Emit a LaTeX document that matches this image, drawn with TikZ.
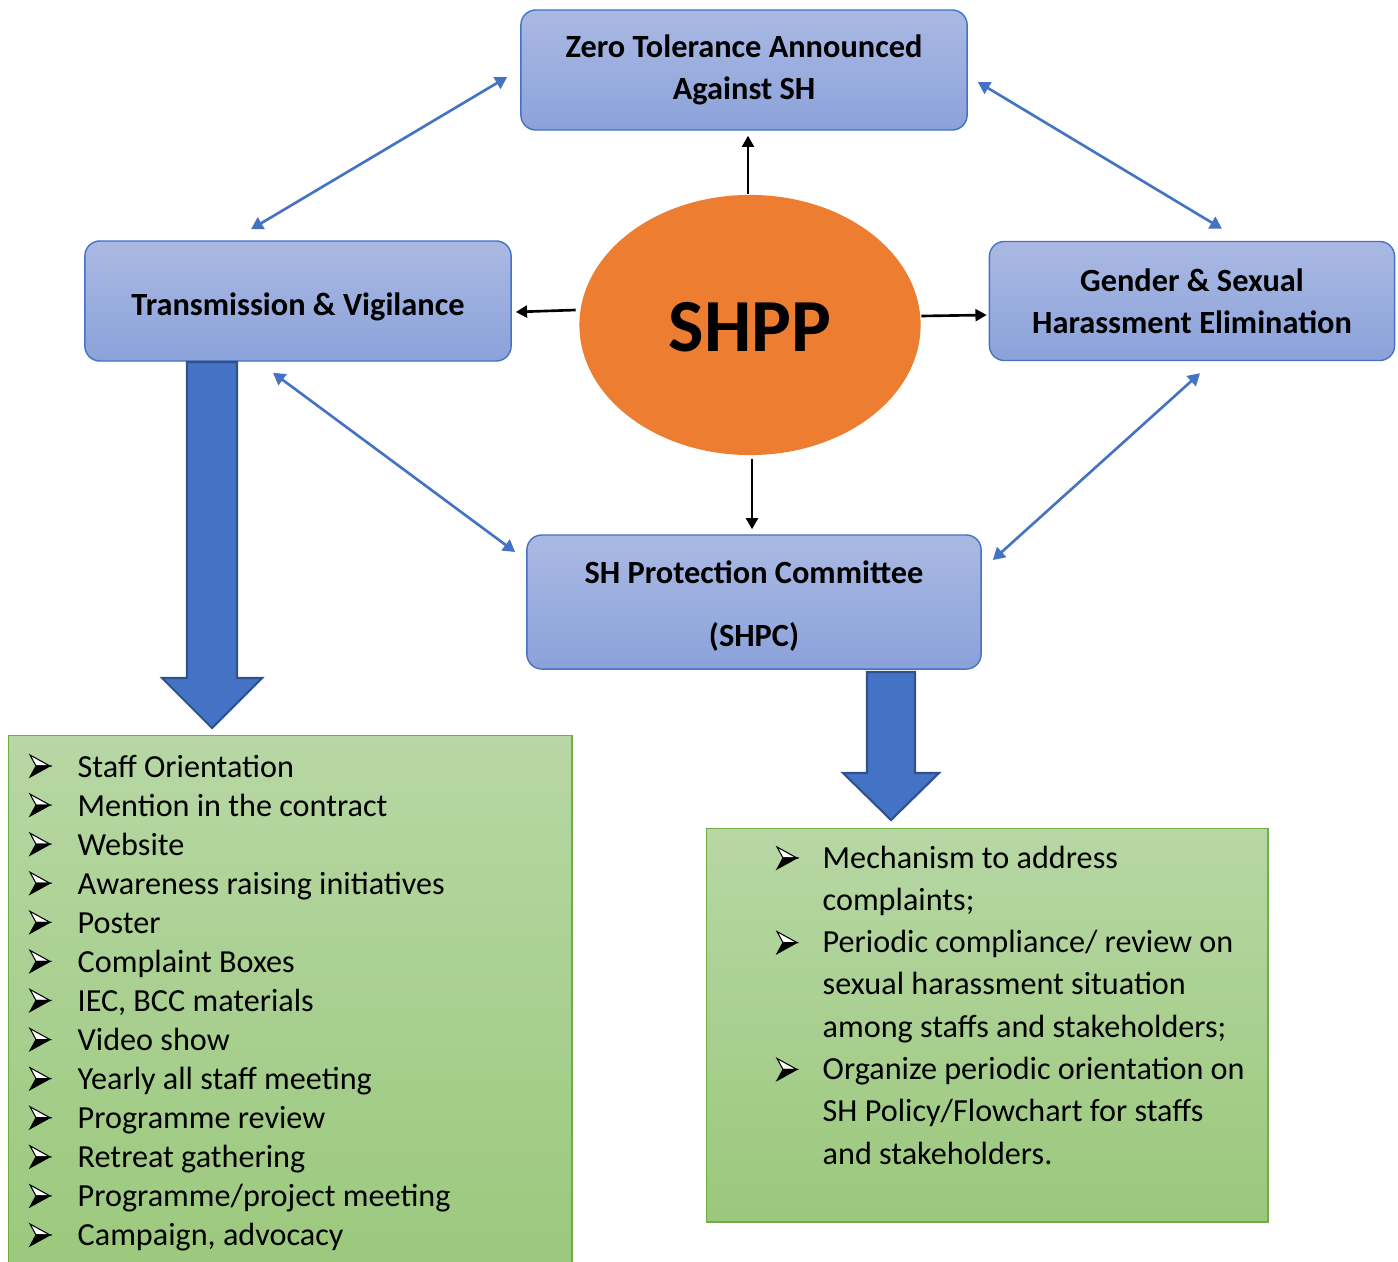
\documentclass[tikz,border=0pt]{standalone}
\usepackage{fontspec}
\setmainfont{Carlito}
\usetikzlibrary{arrows.meta, positioning, shapes.geometric}

\definecolor{boxtop}{HTML}{AAB9E3}
\definecolor{boxbot}{HTML}{8BA2DA}
\definecolor{boxline}{HTML}{4472C4}
\definecolor{greentop}{HTML}{B7D7A4}
\definecolor{greenbot}{HTML}{9BC87C}
\definecolor{greenline}{HTML}{70AD47}
\definecolor{shppfill}{HTML}{ED7D31}
\definecolor{bigfill}{HTML}{4472C4}
\definecolor{bigline}{HTML}{2F528F}

% baixa o texto sem mudar o tamanho do node
\newcommand{\lowertext}[2]{\raisebox{-#1}[\height][\depth]{#2}}

\tikzset{
  topic/.style={rectangle, rounded corners=0.15cm, draw=boxline, thin,
    top color=boxtop, bottom color=boxbot, align=center, inner sep=0pt,
    font=\bfseries\fontsize{9.2}{11.95}\selectfont},
  listbox/.style={rectangle, draw=greenline, thin, top color=greentop,
    bottom color=greenbot, inner sep=0pt, anchor=north west},
  listtext/.style={anchor=base west, inner sep=0pt,
    font=\fontsize{9.15}{11}\selectfont},
  link/.style={{Triangle[length=3.4pt,width=3.8pt]}-{Triangle[length=3.4pt,width=3.8pt]},
    draw=boxline, line width=0.75pt},
  feed/.style={-{Triangle[length=3.2pt,width=3.4pt]}, line width=0.75pt},
  bigarrow/.style={fill=bigfill, draw=bigline, line width=0.6pt, line join=miter},
  pics/bul/.style={code={
    \filldraw[fill=white, draw=black, line width=0.3pt]
      (-10,-11) -- (10,0) -- (-4,0) -- cycle;
    \filldraw[fill=black, draw=black, line width=0.3pt]
      (-4,0) -- (10,0) -- (-10,11) -- cycle;
  }}
}

\begin{document}
\begin{tikzpicture}[x=0.01cm, y=-0.01cm]

  \useasboundingbox (0,0) rectangle (1398,1261);

  % --- caixas principais ---
  \node[topic, minimum width=4.46cm, minimum height=1.20cm] (zta) at (744,70)
    {Zero Tolerance Announced\\Against SH};
  \node[topic, minimum width=4.26cm, minimum height=1.20cm] (trans) at (298,301)
    {\lowertext{0.06cm}{Transmission \& Vigilance}};
  \node[topic, minimum width=4.05cm, minimum height=1.19cm] (gse) at (1192,301)
    {Gender \& Sexual\\Harassment Elimination};
  \node[topic, minimum width=4.54cm, minimum height=1.34cm,
        font=\bfseries\fontsize{9.2}{17.9}\selectfont] (shpc) at (754,602)
    {\lowertext{0.04cm}{SH Protection Committee}\\\lowertext{0.04cm}{(SHPC)}};

  % elipse central
  \node[ellipse, fill=shppfill, minimum width=3.41cm, minimum height=2.60cm,
        inner sep=0pt, font=\bfseries\fontsize{21.3}{24}\selectfont] (shpp) at (750,325)
    {\lowertext{0.02cm}{SHPP}};

  % --- setas pretas saindo do SHPP ---
  \draw[feed] ([shift={(-2,0)}]shpp.north) -- ([shift={(4,5)}]zta.south);
  \draw[feed] ([shift={(-3,-15)}]shpp.west) -- ([shift={(4,11)}]trans.east);
  \draw[feed] ([shift={(0,-9)}]shpp.east) -- ([shift={(-2,14)}]gse.west);
  \draw[feed] ([shift={(2,3)}]shpp.south) -- ([shift={(-2,-5)}]shpc.north);

  % --- setas azuis duplas entre as caixas ---
  \draw[link] ([shift={(-13,7)}]zta.west) -- ([shift={(-47,-11)}]trans.north);
  \draw[link] ([shift={(10,12)}]zta.east) -- ([shift={(30,-12)}]gse.north);
  \draw[link] ([shift={(-25,11)}]trans.south) -- ([shift={(-11,-50)}]shpc.west);
  \draw[link] ([shift={(8,12)}]gse.south) -- ([shift={(11,-42)}]shpc.east);

  % --- caixas verdes ---
  \node[listbox, minimum width=5.63cm, minimum height=5.45cm] (acts) at (8,735) {};
  \node[listbox, minimum width=5.61cm, minimum height=3.93cm] (mech) at (706,828) {};

  % setas grandes
  \draw[bigarrow] (187,362) -- (187,678) -- (162,678) -- (212,728)
    -- (262,678) -- (237,678) -- (237,362) -- cycle;
  \draw[bigarrow] (867,672) -- (867,773) -- (843,773) -- (891,820)
    -- (939,773) -- (915,773) -- (915,672) -- cycle;

  % --- lista da esquerda ---
  \foreach \txt [count=\i from 0] in {Staff Orientation, Mention in the contract,
      Website, Awareness raising initiatives, Poster, Complaint Boxes,
      {IEC, BCC materials}, Video show, Yearly all staff meeting,
      Programme review, Retreat gathering, Programme/project meeting,
      {Campaign, advocacy}} {
    \pic at (40,{766+39.08*\i}) {bul};
    \node[listtext] (l\i) at (77,{777+39.08*\i}) {\txt};
  }

  % --- lista da direita ---
  \foreach \i in {0,2,5} {
    \pic at (787,{858+42.29*\i}) {bul};
  }
  \foreach \txt [count=\i from 0] in {Mechanism to address, complaints;,
      Periodic compliance/ review on, sexual harassment situation,
      among staffs and stakeholders;, Organize periodic orientation on,
      SH Policy/Flowchart for staffs, and stakeholders.} {
    \node[listtext] (r\i) at (822,{868+42.29*\i}) {\txt};
  }

\end{tikzpicture}
\end{document}
